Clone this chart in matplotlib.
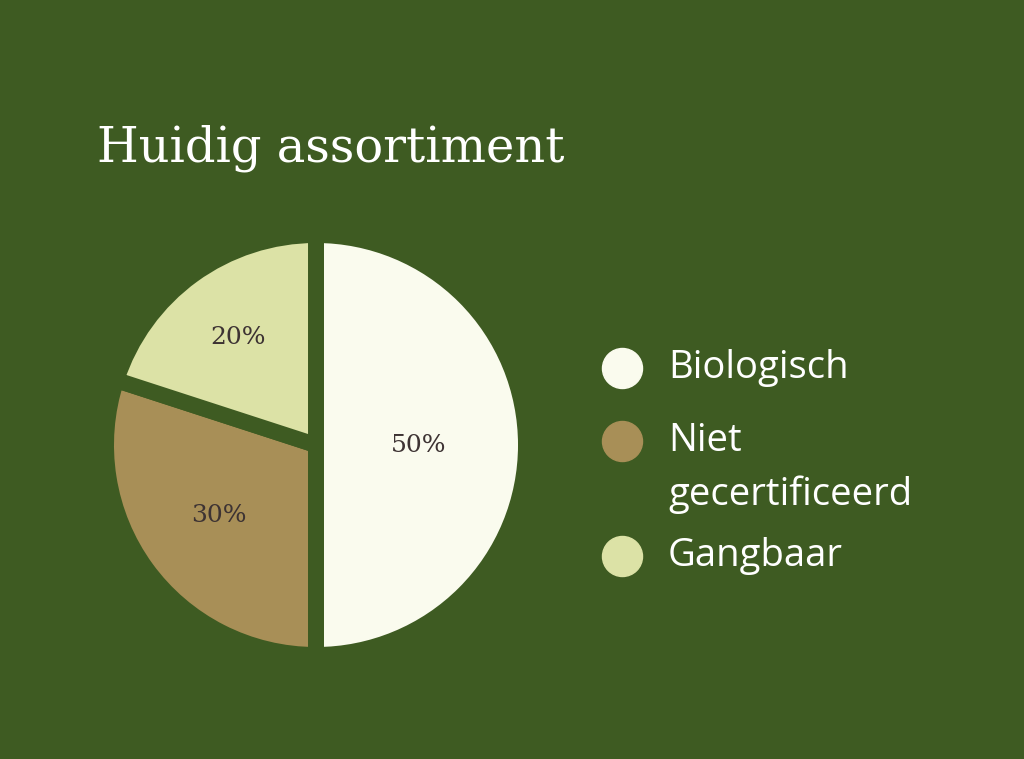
import matplotlib.pyplot as plt

categories = ['Biologisch', 'Niet\ngecertificeerd', 'Gangbaar']
shares = [50, 30, 20]
colors = ['#fafbee', '#a88f57', '#dce2a6']
bg = '#3e5b22'

fig = plt.figure(figsize=(10.24, 7.59), dpi=100, facecolor=bg)
ax = fig.add_axes([0, 0, 1, 1])
ax.set_facecolor(bg)

# pie in pixel-like data coordinates
wedges, texts, autotexts = ax.pie(
    shares, colors=colors, startangle=90, counterclock=False,
    center=(316, 314), radius=210, autopct='%d%%', pctdistance=0.58,
    wedgeprops=dict(edgecolor=bg, linewidth=11.5),
    textprops=dict(family='DejaVu Serif', fontsize=18, color='#3d3333'),
    frame=True,
)
# nudge the percentage labels a bit per slice
for t, d in zip(autotexts, [0.49, 0.57, 0.63]):
    x, y = t.get_position()
    x0, y0 = 316, 314
    f = d / 0.58
    t.set_position((x0 + (x - x0) * f, y0 + (y - y0) * f))

ax.set_xlim(0, 1024)
ax.set_ylim(0, 759)
ax.set_aspect('equal')
ax.axis('off')

fig.text(97, 759 - 162, 'Huidig assortiment', family='DejaVu Serif',
         fontsize=34.5, color='white', transform=None, va='baseline')

legend_y = [368, 441, 556]
for c, lab, y in zip(colors, categories, legend_y):
    ax.scatter([622], [759 - y], s=830, color=c, zorder=5)
    ty = y + 27 if '\n' in lab else y
    ax.text(668, 759 - ty, lab, family='Open Sans', fontsize=27.5, color='white',
            va='center', ha='left', linespacing=1.5)

fig.savefig('out.png', dpi=100, facecolor=bg)
